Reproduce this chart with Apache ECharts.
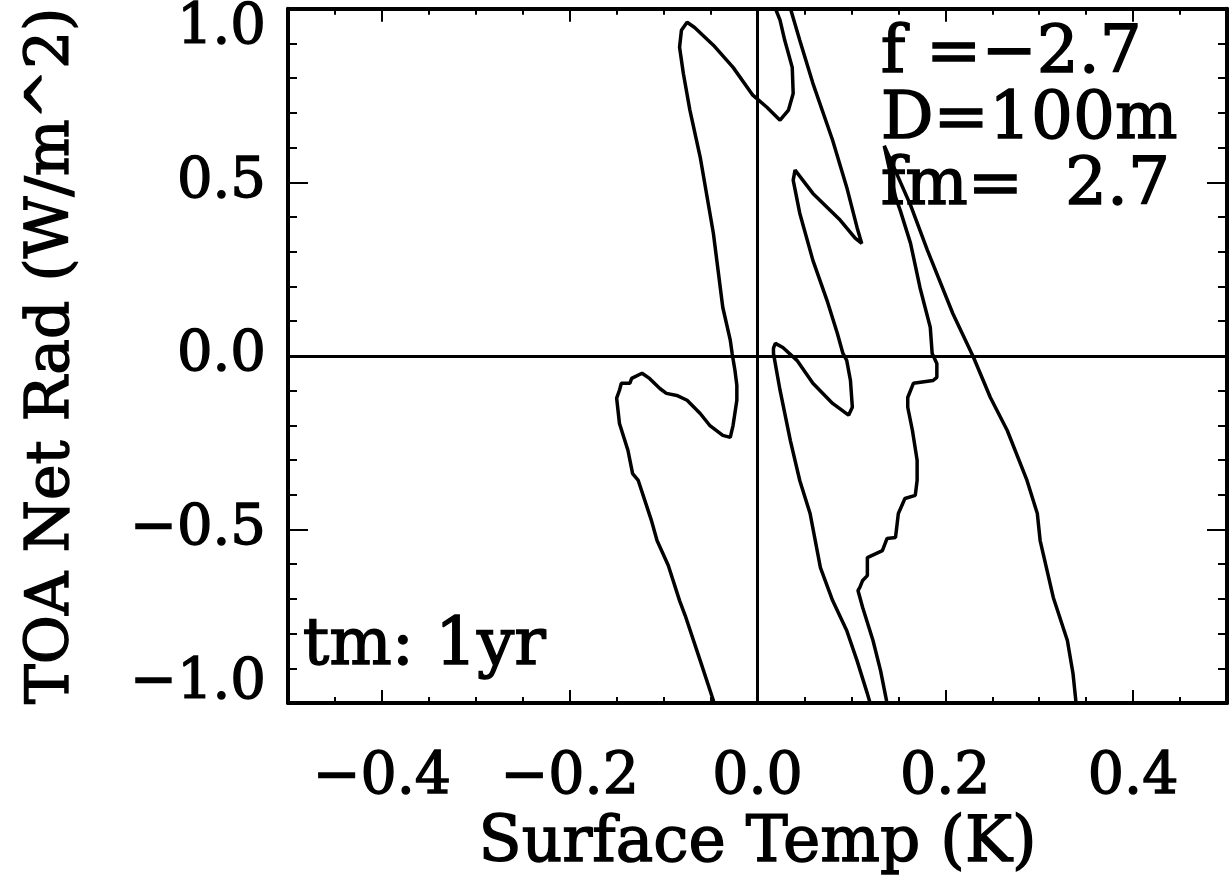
<!DOCTYPE html>
<html>
<head>
<meta charset="utf-8">
<script src="https://cdn.jsdelivr.net/npm/echarts@6.0.0/dist/echarts.min.js"></script>
<style>html,body{margin:0;padding:0;background:#fff;}#c{width:1229px;height:886px;}</style>
</head>
<body>
<div id="c"></div>
<script>
// ---- data: [surface temp (K), TOA net rad (W/m^2)] ----
const leftLoop = [
  [-0.042,-1.050],[-0.047,-0.993],[-0.061,-0.878],[-0.077,-0.748],[-0.083,-0.705],
  [-0.095,-0.604],[-0.107,-0.532],[-0.113,-0.474],[-0.127,-0.359],[-0.133,-0.339],
  [-0.138,-0.272],[-0.147,-0.195],[-0.150,-0.122],[-0.147,-0.099],[-0.145,-0.079],
  [-0.136,-0.079],[-0.134,-0.065],[-0.123,-0.050],[-0.115,-0.065],[-0.104,-0.094],
  [-0.097,-0.108],[-0.086,-0.114],[-0.075,-0.128],[-0.061,-0.166],[-0.051,-0.200],
  [-0.037,-0.229],[-0.029,-0.235],[-0.026,-0.200],[-0.022,-0.128],[-0.022,-0.085],
  [-0.024,-0.042],[-0.027,0.007],[-0.029,0.045],[-0.037,0.140],[-0.047,0.353],
  [-0.061,0.572],[-0.072,0.708],[-0.079,0.814],[-0.083,0.889],[-0.081,0.938],
  [-0.075,0.961],[-0.067,0.946],[-0.047,0.895],[-0.026,0.831],[-0.005,0.751],
  [0.010,0.716],[0.024,0.679],[0.033,0.708],[0.038,0.756],[0.037,0.831],
  [0.029,0.909],[0.024,0.967],[0.019,1.001],[0.013,1.082]
];
const middleLoop = [
  [0.037,1.082],[0.035,1.001],[0.045,0.909],[0.059,0.785],[0.080,0.621],
  [0.095,0.486],[0.106,0.370],[0.111,0.324],[0.104,0.339],[0.088,0.391],
  [0.059,0.468],[0.040,0.535],[0.038,0.540],[0.038,0.506],[0.045,0.411],
  [0.059,0.275],[0.074,0.160],[0.085,0.065],[0.091,0.007],[0.095,-0.013],
  [0.099,-0.071],[0.101,-0.148],[0.097,-0.171],[0.080,-0.137],[0.059,-0.079],
  [0.042,-0.013],[0.027,0.024],[0.019,0.036],[0.017,0.022],[0.017,0.007],
  [0.024,-0.099],[0.035,-0.244],[0.045,-0.359],[0.056,-0.454],[0.067,-0.610],
  [0.080,-0.705],[0.095,-0.791],[0.106,-0.878],[0.117,-0.973],[0.120,-1.001],
  [0.123,-1.050]
];
const rightLoop = [
  [0.138,-1.050],[0.138,-1.001],[0.131,-0.906],[0.123,-0.820],[0.112,-0.725],
  [0.107,-0.676],[0.109,-0.667],[0.112,-0.647],[0.117,-0.633],[0.117,-0.581],
  [0.133,-0.561],[0.138,-0.526],[0.147,-0.523],[0.150,-0.454],[0.157,-0.411],
  [0.168,-0.402],[0.170,-0.359],[0.170,-0.301],[0.165,-0.215],[0.160,-0.148],
  [0.160,-0.120],[0.166,-0.079],[0.187,-0.071],[0.191,-0.062],[0.191,-0.022],
  [0.186,0.007],[0.184,0.082],[0.173,0.197],[0.163,0.324],[0.152,0.419],
  [0.147,0.457],[0.135,0.605],[0.149,0.520],[0.163,0.434],[0.181,0.304],
  [0.208,0.122],[0.230,-0.004],[0.248,-0.120],[0.266,-0.215],[0.287,-0.359],
  [0.298,-0.454],[0.301,-0.532],[0.315,-0.696],[0.330,-0.820],[0.336,-0.915],
  [0.339,-0.993],[0.340,-1.050]
];
const xTicks = [-0.4,-0.2,0.0,0.2,0.4];
const yTicks = [-1.0,-0.5,0.0,0.5,1.0];
const xRange = [-0.5, 0.5];
const yRange = [-1.0, 1.0];
const xTitle = 'Surface Temp (K)';
const yTitle = 'TOA Net Rad (W/m^2)';
const notes = ['f =\u22122.7', 'D=100m', 'fm=  2.7'];
const noteTm = 'tm: 1yr';

// ---- chart ----
const FONT = 'DejaVu Serif';
const fmt = v => (v < 0 ? '\u2212' : '') + Math.abs(v).toFixed(1);
const blk = '#000';
const heavy = { textBorderColor: blk, textBorderWidth: 1.4 };

function xAx(pos, major, showLab) {
  const a = {
    type: 'value', position: pos, min: xRange[0], max: xRange[1],
    axisLine: { show: major, onZero: false, lineStyle: { color: blk, width: 4 } },
    axisTick: { show: true, inside: true, length: major ? 13 : 6, lineStyle: { color: blk, width: 2 } },
    axisLabel: { show: false },
    splitLine: { show: false }
  };
  if (major) { a.axisTick.customValues = xTicks; } else { a.interval = 0.05; }
  if (showLab) {
    a.axisLabel = Object.assign({ show: true, customValues: xTicks, formatter: fmt, margin: 47,
      fontFamily: FONT, fontSize: 57, color: blk }, heavy);
    a.name = xTitle; a.nameLocation = 'middle'; a.nameGap = 108;
    a.nameTextStyle = Object.assign({ fontFamily: FONT, fontSize: 63, color: blk }, heavy);
  }
  return a;
}
function yAx(pos, major, showLab) {
  const a = {
    type: 'value', position: pos, min: yRange[0], max: yRange[1],
    axisLine: { show: major, onZero: false, lineStyle: { color: blk, width: 4 } },
    axisTick: { show: true, inside: true, length: major ? 20 : 9, lineStyle: { color: blk, width: 2 } },
    axisLabel: { show: false },
    splitLine: { show: false }
  };
  if (major) { a.axisTick.customValues = yTicks; } else { a.interval = 0.1; }
  if (showLab) {
    a.axisLabel = Object.assign({ show: true, customValues: yTicks, formatter: fmt, margin: 22,
      fontFamily: FONT, fontSize: 56, lineHeight: 40, color: blk,
      verticalAlignMaxLabel: 'top', verticalAlignMinLabel: 'bottom' }, heavy);
    a.name = yTitle; a.nameLocation = 'middle'; a.nameGap = 206; a.nameRotate = 90;
    a.nameTextStyle = Object.assign({ fontFamily: FONT, fontSize: 60, color: blk }, heavy);
  }
  return a;
}

const lineStyle = { color: blk, width: 3.5 };
const mkSeries = (data, extra) => Object.assign({
  type: 'line', data: data, xAxisIndex: 0, yAxisIndex: 0,
  showSymbol: false, symbol: 'none', clip: true, smooth: false,
  lineStyle: lineStyle, silent: true, animation: false
}, extra || {});

const option = {
  backgroundColor: '#fff',
  animation: false,
  grid: { left: 288, top: 8, width: 939, height: 695, show: false },
  xAxis: [xAx('bottom', true, true), xAx('bottom', false, false), xAx('top', true, false), xAx('top', false, false)],
  yAxis: [yAx('left', true, true), yAx('left', false, false), yAx('right', true, false), yAx('right', false, false)],
  series: [
    mkSeries(leftLoop, {
      markLine: {
        silent: true, symbol: ['none', 'none'], animation: false,
        label: { show: false },
        lineStyle: { color: blk, width: 3, type: 'solid' },
        emphasis: { disabled: true },
        data: [{ xAxis: 0 }, { yAxis: 0 }]
      }
    }),
    mkSeries(middleLoop),
    mkSeries(rightLoop)
  ],
  graphic: [
    { type: 'text', left: 880, top: 21, silent: true, z: 100,
      style: { text: notes.join('\n'), font: '66px "' + FONT + '"', fill: blk, lineHeight: 66,
        stroke: blk, lineWidth: 1.4 } },
    { type: 'text', left: 302, top: 613, silent: true, z: 100,
      style: { text: noteTm, font: '66px "' + FONT + '"', fill: blk, stroke: blk, lineWidth: 1.4 } }
  ]
};
const chart = echarts.init(document.getElementById('c'), null, { renderer: 'canvas' });
chart.setOption(option);
</script>
</body>
</html>
